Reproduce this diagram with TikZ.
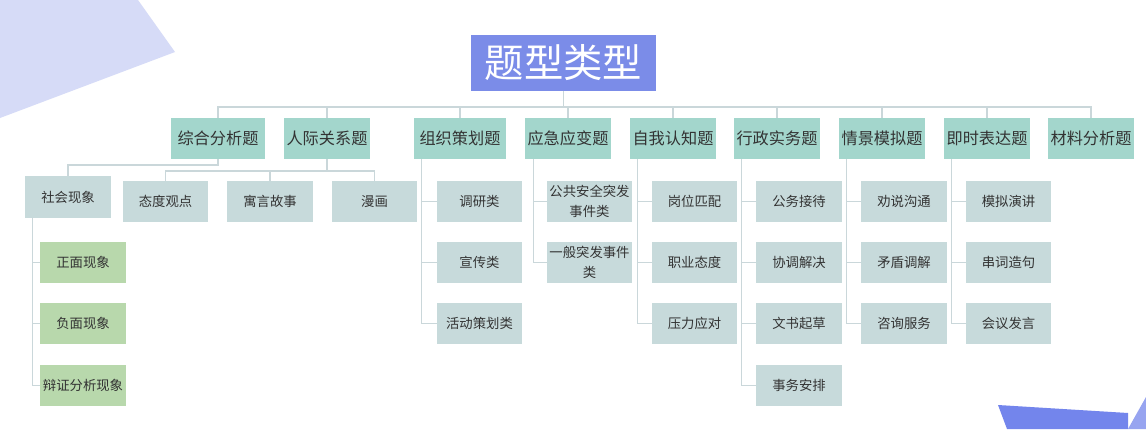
\documentclass[tikz,border=0pt]{standalone}
\usepackage{fontspec}
\setmainfont{Noto Sans CJK SC}
\usetikzlibrary{positioning,calc}
\definecolor{periwinkle}{HTML}{7B8CE8}
\definecolor{lavender}{HTML}{D6DBF7}
\definecolor{deepblue}{HTML}{7385EC}
\definecolor{paleblue}{HTML}{97A4F0}
\definecolor{teal}{HTML}{A3D6CC}
\definecolor{slate}{HTML}{C7DADB}
\definecolor{sage}{HTML}{B8D8AC}
\definecolor{wire}{HTML}{CAD7DA}
\definecolor{ink}{HTML}{333333}
\tikzset{
  title/.style={fill=periwinkle, text=white, minimum width=4.625cm, minimum height=1.375cm,
    inner sep=0pt, font=\fontsize{28pt}{30pt}\selectfont},
  kind/.style={fill=teal, text=ink, minimum width=2.15cm, minimum height=1.025cm,
    inner sep=0pt, font=\fontsize{11.5pt}{13pt}\selectfont},
  sub/.style={fill=slate, text=ink, minimum width=2.125cm, minimum height=1.025cm,
    inner sep=0pt, align=center, font=\fontsize{9.5pt}{14.5pt}\selectfont},
  leaf/.style={sub, fill=sage},
  link/.style={draw=wire, line width=1pt},
}
\begin{document}
\begin{tikzpicture}[x=0.025cm, y=-0.025cm]
    \useasboundingbox[fill=white] (0,0) rectangle (1146,429);
    % background
    \fill[lavender] (0,0) -- (138,0) -- (175,52) -- (0,118) -- cycle;
    \fill[deepblue] (998,405) -- (1128,413) -- (1128,429) -- (1007,429) -- cycle;
    \fill[paleblue] (1128,429) -- (1146,397) -- (1146,429) -- cycle;
    % top
    \node[title] (root) at (563.5,63) {题型类型};
    \coordinate (bus) at (563.5,107);
    \node[kind, minimum width=2.35cm] (zh) at (218,138.5) {综合分析题};
    \node[kind] (rj) at (327,138.5) {人际关系题};
    \node[kind, minimum width=2.3cm] (zz) at (460,138.5) {组织策划题};
    \node[kind] (yj) at (568,138.5) {应急应变题};
    \node[kind] (zw) at (673,138.5) {自我认知题};
    \node[kind] (xz) at (777,138.5) {行政实务题};
    \node[kind] (qj) at (882,138.5) {情景模拟题};
    \node[kind] (js) at (987,138.5) {即时表达题};
    \node[kind] (cl) at (1091,138.5) {材料分析题};
    \draw[link] (root) -- (bus);
    \foreach \k in {zh,rj,zz,yj,zw,xz,qj,js,cl}
      \draw[link] (\k.north) |- (bus);
    % 综合分析题
    \node[sub] (sh) at (68,197) {社会现象};
    \coordinate (zhbus) at (218,165);
    \draw[link] (zh) -- (zhbus) -| (sh.north);
    \node[leaf] (zm) at (83,262.5) {正面现象};
    \node[leaf] (fm) at (83,323.5) {负面现象};
    \node[leaf] (bz) at (83,385.5) {辩证分析现象};
    \foreach \c in {zm,fm,bz}
      \draw[link] ([xshift=0.175cm]sh.south west) |- (\c.west);
    % 人际关系题
    \node[sub] (td) at (165.5,201.5) {态度观点};
    \node[sub] (yy) at (270,201.5) {寓言故事};
    \node[sub] (mh) at (374.5,201.5) {漫画};
    \coordinate (rjbus) at (327,171);
    \draw[link] (rj) -- (rjbus);
    \foreach \c in {td,yy,mh}
      \draw[link] (\c.north) |- (rjbus);
    % 组织策划题
    \node[sub] (dy) at (479.5,201.5) {调研类};
    \node[sub] (xc) at (479.5,262.5) {宣传类};
    \node[sub] (hd) at (479.5,323.5) {活动策划类};
    \foreach \c in {dy,xc,hd}
      \draw[link] ([xshift=0.2cm]zz.south west) |- (\c.west);
    % 应急应变题
    \node[sub] (gg) at (589.5,201.5) {公共安全突发\\事件类};
    \node[sub] (yb) at (589.5,262.5) {一般突发事件\\类};
    \foreach \c in {gg,yb}
      \draw[link] ([xshift=0.225cm]yj.south west) |- (\c.west);
    % 自我认知题
    \node[sub] (gw) at (694.5,201.5) {岗位匹配};
    \node[sub] (zy) at (694.5,262.5) {职业态度};
    \node[sub] (yl) at (694.5,323.5) {压力应对};
    \foreach \c in {gw,zy,yl}
      \draw[link] ([xshift=0.2cm]zw.south west) |- (\c.west);
    % 行政实务题
    \node[sub] (gj) at (799,201.5) {公务接待};
    \node[sub] (xt) at (799,262.5) {协调解决};
    \node[sub] (ws) at (799,323.5) {文书起草};
    \node[sub] (sw) at (799,385.5) {事务安排};
    \foreach \c in {gj,xt,ws,sw}
      \draw[link] ([xshift=0.2cm]xz.south west) |- (\c.west);
    % 情景模拟题
    \node[sub] (qs) at (904,201.5) {劝说沟通};
    \node[sub] (md) at (904,262.5) {矛盾调解};
    \node[sub] (zx) at (904,323.5) {咨询服务};
    \foreach \c in {qs,md,zx}
      \draw[link] ([xshift=0.2cm]qj.south west) |- (\c.west);
    % 即时表达题
    \node[sub] (mn) at (1008.5,201.5) {模拟演讲};
    \node[sub] (cc) at (1008.5,262.5) {串词造句};
    \node[sub] (hy) at (1008.5,323.5) {会议发言};
    \foreach \c in {mn,cc,hy}
      \draw[link] ([xshift=0.2cm]js.south west) |- (\c.west);
\end{tikzpicture}
\end{document}
